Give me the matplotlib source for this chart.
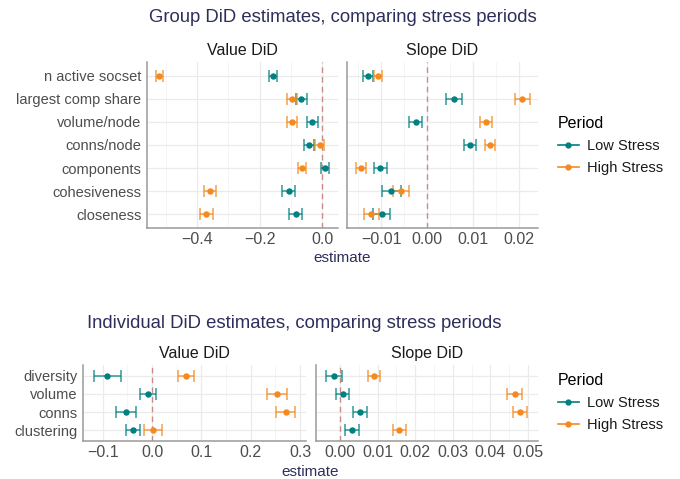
import matplotlib
matplotlib.use("Agg")
import matplotlib.pyplot as plt
from matplotlib.lines import Line2D
import numpy as np

plt.rcParams['font.family'] = ['Liberation Sans', 'DejaVu Sans']

# ---------------- data ----------------
group_metrics = ["n active socset", "largest comp share", "volume/node", "conns/node",
                 "components", "cohesiveness", "closeness"]
# Value DiD (group)
g_val_low = [-0.158, -0.067, -0.032, -0.043, 0.0085, -0.108, -0.085]
g_val_low_err = [0.012, 0.018, 0.017, 0.015, 0.014, 0.021, 0.020]
g_val_high = [-0.521, -0.096, -0.096, -0.0085, -0.064, -0.360, -0.371]
g_val_high_err = [0.011, 0.016, 0.016, 0.015, 0.013, 0.019, 0.021]
# Slope DiD (group)
g_slp_low = [-0.0128, 0.0058, -0.0025, 0.0093, -0.0102, -0.0078, -0.0099]
g_slp_low_err = [0.0011, 0.0017, 0.0015, 0.0013, 0.0014, 0.0021, 0.0019]
g_slp_high = [-0.0107, 0.0207, 0.0128, 0.0136, -0.0144, -0.0057, -0.0121]
g_slp_high_err = [0.0009, 0.0016, 0.0013, 0.0011, 0.0011, 0.0017, 0.0016]

indiv_metrics = ["diversity", "volume", "conns", "clustering"]
i_val_low = [-0.0905, -0.0088, -0.053, -0.0385]
i_val_low_err = [0.028, 0.016, 0.021, 0.014]
i_val_high = [0.068, 0.2535, 0.271, 0.0014]
i_val_high_err = [0.016, 0.020, 0.019, 0.018]
i_slp_low = [-0.0016, 0.0007, 0.0053, 0.0032]
i_slp_low_err = [0.0022, 0.0017, 0.0018, 0.0018]
i_slp_high = [0.0090, 0.0465, 0.0480, 0.0158]
i_slp_high_err = [0.0016, 0.0020, 0.0019, 0.0017]

periods = ["Low Stress", "High Stress"]
facets = ["Value DiD", "Slope DiD"]

TEAL = "#008080"
ORANGE = "#F5891F"
TITLE_C = "#2E2E5C"
TICK_C = "#4D4D4D"

W, H = 680, 479
fig = plt.figure(figsize=(W / 100, H / 100), dpi=100)


def add_ax(l, t, r, b):
    return fig.add_axes([l / W, 1 - b / H, (r - l) / W, (b - t) / H])


def style(ax, xlim, major, minor, n, show_y, labels):
    ax.set_xlim(*xlim)
    ax.set_ylim(n - 1 + 0.6, -0.6)
    ax.set_xticks(major)
    ax.set_xticks(minor, minor=True)
    ax.set_yticks(range(n))
    ax.set_yticklabels(labels if show_y else [])
    ax.tick_params(axis='both', which='both', length=0, colors=TICK_C, labelsize=10.5, pad=4)
    ax.tick_params(axis='x', labelsize=11.5, pad=3)
    ax.grid(True, which='major', color='#EBEBEB', lw=0.9)
    ax.grid(True, which='minor', axis='x', color='#F4F4F4', lw=0.6)
    ax.set_axisbelow(True)
    for s in ['top', 'right']:
        ax.spines[s].set_visible(False)
    for s in ['left', 'bottom']:
        ax.spines[s].set_color('#9A9A9A')
        ax.spines[s].set_linewidth(1.1)
    ax.axvline(0, color='#B8625F', lw=1.0, ls=(0, (4, 3)), alpha=0.7, zorder=1.5)


def draw(ax, vals, errs, color):
    y = np.arange(len(vals))
    ax.errorbar(vals, y, xerr=errs, fmt='none', ecolor=color, elinewidth=1.1,
                capsize=4.5, capthick=1.1, alpha=0.8, zorder=3)
    ax.plot(vals, y, 'o', color=color, ms=3.6, zorder=4)


def fmt_ticks(ax, fmt):
    ax.set_xticklabels([fmt(v).replace('-', '\u2212') for v in ax.get_xticks()])


# ---------------- top (group) ----------------
ax1 = add_ax(147, 62, 338, 228)
ax2 = add_ax(347, 62, 538, 228)
n = len(group_metrics)
style(ax1, (-0.56, 0.05), [-0.4, -0.2, 0.0], [-0.5, -0.3, -0.1], n, True, group_metrics)
style(ax2, (-0.0174, 0.0241), [-0.01, 0.0, 0.01, 0.02], [-0.015, -0.005, 0.005, 0.015], n, False, group_metrics)
draw(ax1, g_val_low, g_val_low_err, TEAL)
draw(ax1, g_val_high, g_val_high_err, ORANGE)
draw(ax2, g_slp_low, g_slp_low_err, TEAL)
draw(ax2, g_slp_high, g_slp_high_err, ORANGE)
fmt_ticks(ax1, lambda v: f"{v:.1f}")
fmt_ticks(ax2, lambda v: f"{v:.2f}")
ax1.set_title(facets[0], fontsize=11.5, color='#1A1A1A', pad=5)
ax2.set_title(facets[1], fontsize=11.5, color='#1A1A1A', pad=5)
fig.text(342.5 / W, 1 - 18 / H, "Group DiD estimates, comparing stress periods",
         ha='center', va='center', fontsize=13.3, color=TITLE_C)
fig.text(342.5 / W, 1 - 258 / H, "estimate", ha='center', va='center', fontsize=11, color=TITLE_C)

# ---------------- bottom (individual) ----------------
ax3 = add_ax(83, 365, 306, 441)
ax4 = add_ax(316, 365, 538, 441)
n2 = len(indiv_metrics)
style(ax3, (-0.14, 0.312), [-0.1, 0.0, 0.1, 0.2, 0.3], [-0.05, 0.05, 0.15, 0.25], n2, True, indiv_metrics)
style(ax4, (-0.0064, 0.0527), [0.0, 0.01, 0.02, 0.03, 0.04, 0.05],
      [0.005, 0.015, 0.025, 0.035, 0.045], n2, False, indiv_metrics)
draw(ax3, i_val_low, i_val_low_err, TEAL)
draw(ax3, i_val_high, i_val_high_err, ORANGE)
draw(ax4, i_slp_low, i_slp_low_err, TEAL)
draw(ax4, i_slp_high, i_slp_high_err, ORANGE)
fmt_ticks(ax3, lambda v: f"{v:.1f}")
fmt_ticks(ax4, lambda v: f"{v:.2f}")
ax3.set_title(facets[0], fontsize=11.5, color='#1A1A1A', pad=5)
ax4.set_title(facets[1], fontsize=11.5, color='#1A1A1A', pad=5)
fig.text(294 / W, 1 - 323 / H, "Individual DiD estimates, comparing stress periods",
         ha='center', va='center', fontsize=13.3, color=TITLE_C)
fig.text(310 / W, 1 - 472 / H, "estimate", ha='center', va='center', fontsize=11, color=TITLE_C)

# ---------------- legends ----------------
handles = [Line2D([0], [0], color=TEAL, marker='o', ms=3.5, lw=1.2),
           Line2D([0], [0], color=ORANGE, marker='o', ms=3.5, lw=1.2)]
for ty in (121, 378):
    fig.legend(handles, periods, title="Period", loc='upper left',
               bbox_to_anchor=(545 / W, 1 - (ty - 18) / H), frameon=False,
               fontsize=10.5, title_fontsize=11.5, handlelength=1.4, handletextpad=0.6,
               labelspacing=0.55, alignment='left', labelcolor='#1A1A1A')

fig.savefig("out.png", dpi=100, facecolor='white')
